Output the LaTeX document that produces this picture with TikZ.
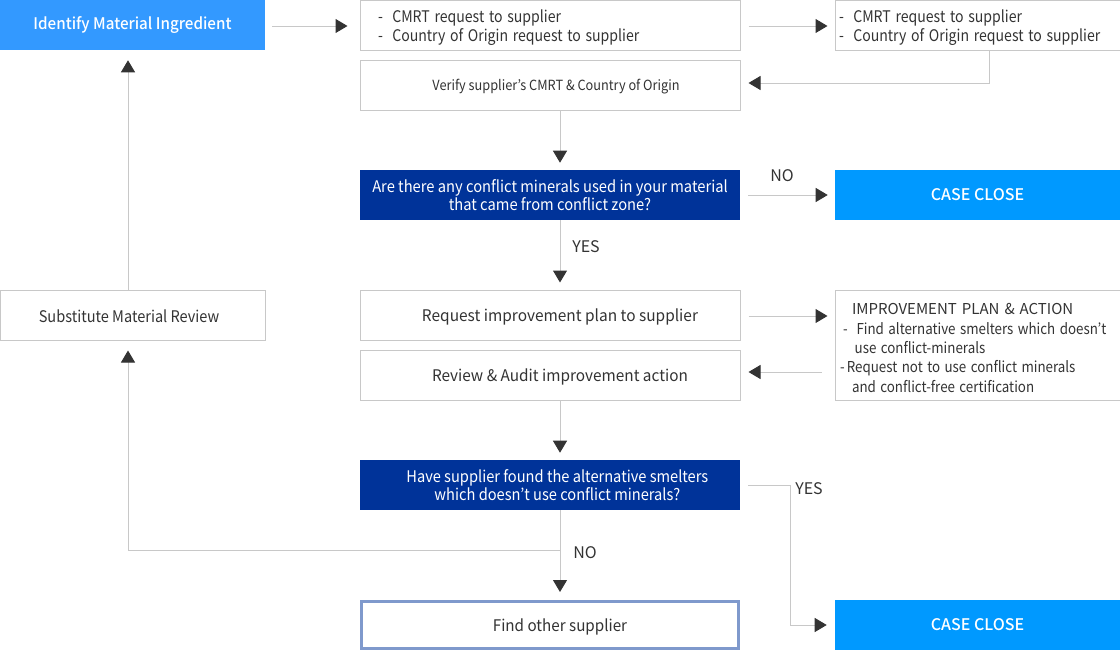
\documentclass[tikz,border=0pt]{standalone}
\usepackage{fontspec}
\setmainfont{Noto Sans CJK KR}
\IfFontExistsTF{Noto Sans CJK KR Medium}
  {\newfontfamily\medf{Noto Sans CJK KR Medium}}
  {\newfontfamily\medf[FakeBold=2]{Noto Sans CJK KR}}
\usetikzlibrary{arrows.meta,calc}
\definecolor{lineg}{HTML}{C8C8C8}
\definecolor{tipc}{HTML}{333333}
\definecolor{txt}{HTML}{333333}
\definecolor{idblue}{HTML}{3399FF}
\definecolor{ccblue}{HTML}{0099FF}
\definecolor{qblue}{HTML}{003399}
\definecolor{fosb}{HTML}{7F99CC}
\newcommand{\dn}[2][1]{\raisebox{-2.25pt}[\height][\depth]{\scalebox{#1}[1]{#2}}}
\newcommand{\sn}[2][1]{\raisebox{-1.1pt}[\height][\depth]{\scalebox{#1}[1]{#2}}}
\begin{document}
\begin{tikzpicture}[x=0.75pt,y=-0.75pt,
  box/.style={draw=lineg,line width=0.75pt,fill=white,minimum height=37.5pt,inner sep=0pt,text=txt,font=\fontsize{12}{14.25}\selectfont},
  wide/.style={minimum width=285pt},
  side/.style={minimum width=213.75pt},
  left/.style={minimum width=198.75pt},
  qbox/.style={fill=qblue,minimum width=285pt,minimum height=37.5pt,inner sep=0pt,text=white,align=center,font=\fontsize{12}{13.5}\selectfont},
  ccbox/.style={fill=ccblue,minimum width=213.75pt,minimum height=37.5pt,inner sep=0pt,text=white,font=\fontsize{12}{14}\selectfont\medf},
  lbl/.style={text=txt,inner sep=0pt,font=\fontsize{12}{14}\selectfont},
  conn/.style={draw=lineg,line width=0.75pt,-{Triangle[length=9pt,width=10.5pt,color=tipc]}}
]
\useasboundingbox (0,0) rectangle (1120,650);
% nodes
\node[fill=idblue,left,minimum height=37.5pt,inner sep=0pt,text=white,font=\fontsize{12}{14}\selectfont\medf] (idf) at (132.5,25) {\scalebox{0.95}[1]{Identify Material Ingredient}};
\node[box,wide,align=left,text width=258pt,inner xsep=13.5pt] (b1) at (550,25) {\dn[0.88]{-\ \ CMRT request to supplier}\\\dn[0.88]{-\ \ Country of Origin request to supplier}};
\node[box,side,align=left,text width=207.75pt,inner xsep=3pt] (b2) at (977.5,25) {\dn[0.88]{-\ \ CMRT request to supplier}\\\dn[0.88]{-\ \ Country of Origin request to supplier}};
\node[box,wide,font=\fontsize{10.5}{12}\selectfont] (ver) at (550,85) {\hspace*{9pt}\sn[0.91]{Verify supplier’s CMRT \& Country of Origin}};
\node[qbox] (q1) at (550,195) {\scalebox{0.92}[1]{Are there any conflict minerals used in your material}\\\scalebox{0.92}[1]{that came from conflict zone?}};
\node[ccbox] (cc1) at (977.5,195) {CASE CLOSE};
\node[box,left] (sub) at (132.5,315) {\sn[0.91]{Substitute Material Review}\hspace*{5.25pt}};
\node[box,wide] (req) at (550,315) {\hspace*{15pt}\sn[0.965]{Request improvement plan to supplier}};
\node[box,side,minimum height=82.5pt,align=left,text width=206.25pt,inner xsep=3.75pt,font=\fontsize{11.25}{14.6}\selectfont] (imp) at (977.5,345)
 {\hspace*{9pt}\dn{IMPROVEMENT PLAN \& ACTION}\\\hspace*{2.25pt}\dn[0.89]{-\ \ Find alternative smelters which doesn’t}\\\hspace*{11pt}\dn[0.89]{use conflict-minerals}\\\dn[0.89]{-\,Request not to use conflict minerals}\\\hspace*{9pt}\dn[0.89]{and conflict-free certification}};
\node[box,wide] (rev) at (550,375) {\hspace*{15pt}\sn[0.96]{Review \& Audit improvement action}};
\node[qbox] (q2) at (550,485) {\hspace*{11pt}\scalebox{0.915}[1]{Have supplier found the alternative smelters}\\\hspace*{11pt}\scalebox{0.915}[1]{which doesn’t use conflict minerals?}};
\node[box,wide,draw=fosb,line width=2.25pt,minimum width=282.75pt,minimum height=35.25pt] (fos) at (550,625) {\hspace*{15pt}\sn[0.95]{Find other supplier}};
\node[ccbox] (cc2) at (977.5,625) {CASE CLOSE};
% labels
\node[lbl] (no1) at (782,176) {NO};
\node[lbl] (yes1) at (586,247) {YES};
\node[lbl] (yes2) at (809,489) {YES};
\node[lbl] (no2) at (585,553) {NO};
% helper coordinates
\coordinate (b2d) at ($(b2.south)+(12,0)$);
\coordinate (yb) at (790,485);
\coordinate (nb) at (560,550);
\coordinate (nl) at (128,550);
% connectors
\draw[conn,shorten <=5.25pt,shorten >=9pt] ([yshift=-0.75pt]idf.east) -- ([yshift=-0.75pt]b1.west);
\draw[conn,shorten <=6pt,shorten >=5.25pt] ([yshift=-0.75pt]b1.east) -- ([yshift=-0.75pt]b2.west);
\draw[conn,shorten >=6pt] (b2d) |- ([yshift=1.5pt]ver.east);
\draw[conn,shorten >=5.25pt] ([xshift=7.5pt]ver.south) -- ([xshift=7.5pt]q1.north);
\draw[conn,shorten <=6pt,shorten >=5.25pt] (q1) -- (cc1);
\draw[conn,shorten >=5.25pt] ([xshift=7.5pt]q1.south) -- ([xshift=7.5pt]req.north);
\draw[conn,shorten <=6pt,shorten >=5.25pt] ([yshift=-0.75pt]req.east) -- ([yshift=-0.75pt]req.east -| imp.west);
\draw[conn,shorten <=9.75pt,shorten >=6pt] ([yshift=2.25pt]imp.west |- rev.east) -- ([yshift=2.25pt]rev.east);
\draw[conn,shorten >=5.25pt] ([xshift=7.5pt]rev.south) -- ([xshift=7.5pt]q2.north);
\draw[conn,shorten <=6pt,shorten >=6pt] (q2.east) -- (yb) |- (cc2.west);
\draw[conn,shorten >=6pt] ([xshift=7.5pt]q2.south) -- ([xshift=7.5pt]fos.north);
\draw[conn,shorten >=7.5pt] (nb) -- (nl) -- (nl |- sub.south);
\draw[conn,shorten >=7.5pt] (nl |- sub.north) -- (nl |- idf.south);
\end{tikzpicture}
\end{document}
